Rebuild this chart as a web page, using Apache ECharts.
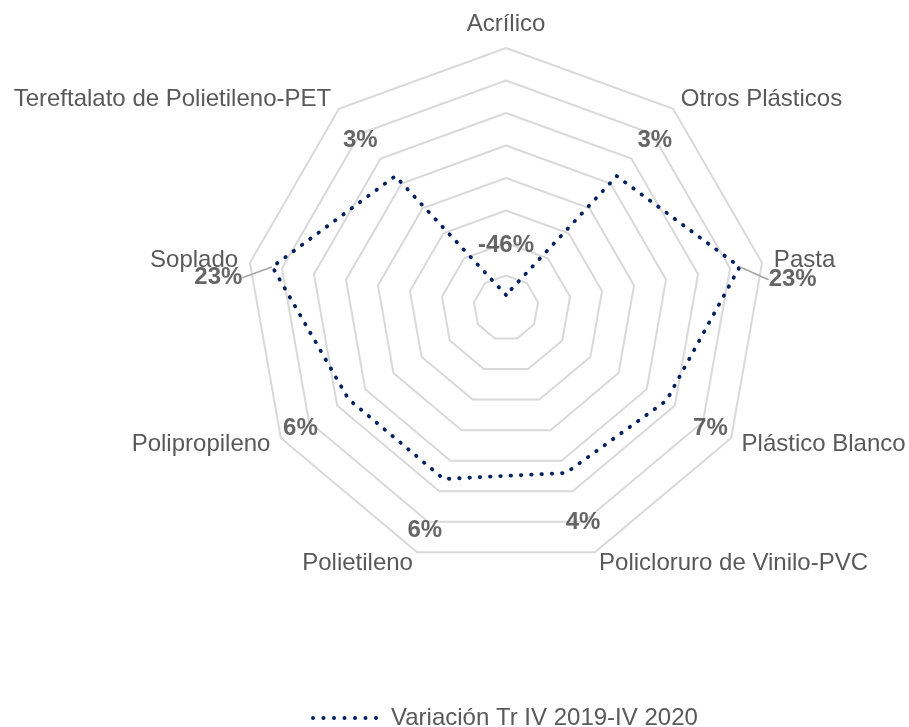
<!DOCTYPE html>
<html>
<head>
<meta charset="utf-8">
<script src="https://cdn.jsdelivr.net/npm/echarts@6/dist/echarts.min.js"></script>
<style>
html,body{margin:0;padding:0;background:#fff;}
#chart{width:909px;height:727px;}
</style>
</head>
<body>
<div id="chart"></div>
<script>
// ---- data ----
const categories = ['Acrílico', 'Otros Plásticos', 'Pasta', 'Plástico Blanco', 'Policloruro de Vinilo-PVC', 'Polietileno', 'Polipropileno', 'Soplado', 'Tereftalato de Polietileno-PET'];
const values = [-46, 3, 23, 7, 4, 6, 6, 23, 3];
const seriesName = 'Variación Tr IV 2019-IV 2020';
const axisMin = -50;
const axisMax = 30;
const splitCount = 8;

// ---- styling (label displacement from its point, in px) ----
const labelShift = [[0, -50], [38, -36], [53, 13], [44, 28], [17, 49], [-19, 51], [-48, 29], [-54, 11], [-35, -36]];
const leaderLine = [false, false, true, false, false, false, false, true, false];

const FONT = 'Liberation Sans, Arial, sans-serif';
const CENTER = [506, 308];
const RADIUS = 260;
const NAVY = '#002060';

// legend icon: a row of seven dots
let dotPath = 'path://';
for (let k = 0; k < 7; k++) {
  const cx = 2 + k * 10.5;
  dotPath += 'M' + (cx - 2) + ',2a2,2 0 1,0 4,0a2,2 0 1,0 -4,0Z';
}

// radar draws indicators counter-clockwise; reorder so they appear clockwise
const radarOrder = [0].concat(categories.map((c, i) => i).slice(1).reverse());

const chart = echarts.init(document.getElementById('chart'), null, {renderer: 'canvas'});

const labelData = categories.map((c, i) => ({
  value: [values[i], c],
  labelLine: {show: leaderLine[i]}
}));

chart.setOption({
  backgroundColor: '#ffffff',
  animation: false,
  radar: {
    center: CENTER,
    radius: RADIUS,
    startAngle: 90,
    shape: 'polygon',
    splitNumber: splitCount,
    indicator: radarOrder.map(i => ({name: categories[i], min: axisMin, max: axisMax})),
    axisName: {color: '#595959', fontSize: 24, fontFamily: FONT},
    nameGap: 12,
    axisLine: {show: false},
    axisTick: {show: false},
    axisLabel: {show: false},
    splitArea: {show: false},
    splitLine: {lineStyle: {color: '#d9d9d9', width: 2}}
  },
  polar: {center: CENTER, radius: RADIUS},
  angleAxis: {
    type: 'category',
    data: categories,
    startAngle: 90,
    clockwise: true,
    boundaryGap: false,
    show: false
  },
  radiusAxis: {type: 'value', min: axisMin, max: axisMax, show: false},
  legend: {
    data: [{name: seriesName, icon: dotPath}],
    left: 306,
    top: 701,
    itemWidth: 67,
    itemHeight: 4,
    itemStyle: {color: NAVY},
    textStyle: {color: '#595959', fontSize: 24, fontFamily: FONT, padding: [0, 0, 0, 8]}
  },
  series: [
    {
      name: seriesName,
      type: 'radar',
      data: [{value: radarOrder.map(i => values[i]), name: seriesName}],
      symbol: 'none',
      lineStyle: {color: NAVY, width: 3.8, type: [0.5, 9.8], cap: 'round'},
      itemStyle: {color: NAVY},
      z: 3
    },
    {
      name: 'labels',
      type: 'scatter',
      coordinateSystem: 'polar',
      data: labelData,
      symbolSize: 1,
      clip: false,
      itemStyle: {color: 'rgba(0,0,0,0)'},
      label: {
        show: true,
        position: 'inside',
        formatter: p => p.value[0] + '%',
        color: '#404040',
        fontSize: 24,
        fontWeight: 'bold',
        fontFamily: FONT
      },
      labelLine: {lineStyle: {color: '#a6a6a6', width: 1.5}},
      labelLayout: p => ({dx: labelShift[p.dataIndex][0], dy: labelShift[p.dataIndex][1]}),
      z: 4
    }
  ]
});
</script>
</body>
</html>
